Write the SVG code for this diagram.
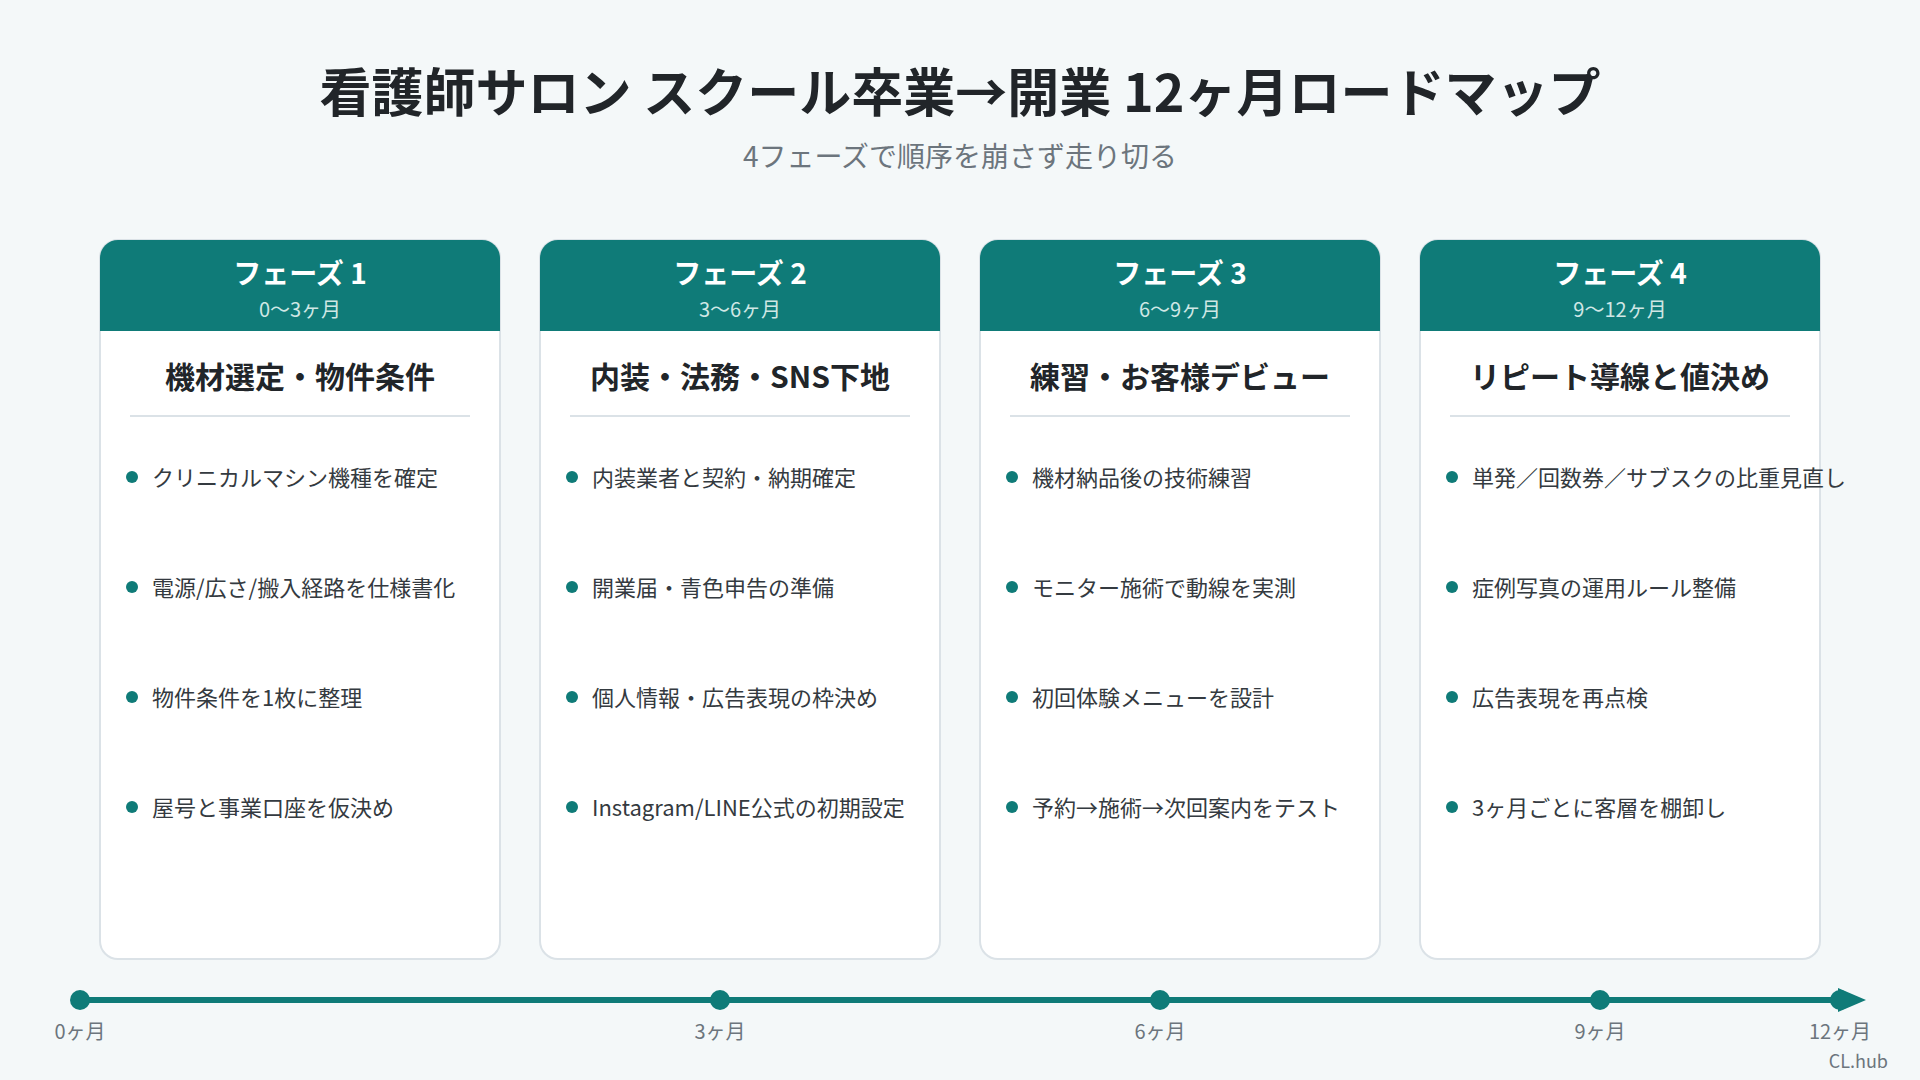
<svg xmlns="http://www.w3.org/2000/svg" width="1920" height="1080" viewBox="0 0 1920 1080">
<defs>
<style>
text{font-family:"Noto Sans CJK JP","Noto Sans",sans-serif}
.title{font-size:52px;font-weight:700;fill:#212529;text-anchor:middle}
.sub{font-size:28px;fill:#6c757d;text-anchor:middle}
.card{fill:#ffffff;stroke:#dbe2e7;stroke-width:2}
.head{fill:#0f7b78}
.ph{font-size:28px;font-weight:700;fill:#ffffff;text-anchor:middle}
.pr{font-size:20px;fill:#cfe7e5;text-anchor:middle}
.ch{font-size:30px;font-weight:700;fill:#212529;text-anchor:middle}
.div{stroke:#dbe2e7;stroke-width:2}
.dot{fill:#0f7b78}
.item{font-size:22px;fill:#343a40}
.axis{stroke:#0f7b78;stroke-width:6}
.tl{font-size:20px;fill:#6c757d;text-anchor:middle}
.foot{font-size:18px;fill:#6c757d;text-anchor:end}
</style>
</defs>
<rect width="1920" height="1080" fill="#f4f8f9"/>
<text class="title" x="960" y="112">看護師サロン スクール卒業→開業 12ヶ月ロードマップ</text>
<text class="sub" x="960" y="167">4フェーズで順序を崩さず走り切る</text>

<g id="phase1">
<rect class="card" x="100" y="240" width="400" height="719" rx="18"/>
<path class="head" d="M100 331 V258 A18 18 0 0 1 118 240 H482 A18 18 0 0 1 500 258 V331 Z"/>
<text class="ph" x="300" y="284">フェーズ 1</text>
<text class="pr" x="300" y="317">0〜3ヶ月</text>
<text class="ch" x="300" y="388">機材選定・物件条件</text>
<line class="div" x1="130" y1="416" x2="470" y2="416"/>
<circle class="dot" cx="132" cy="477" r="6"/><text class="item" x="152" y="486">クリニカルマシン機種を確定</text>
<circle class="dot" cx="132" cy="587" r="6"/><text class="item" x="152" y="596">電源/広さ/搬入経路を仕様書化</text>
<circle class="dot" cx="132" cy="697" r="6"/><text class="item" x="152" y="706">物件条件を1枚に整理</text>
<circle class="dot" cx="132" cy="807" r="6"/><text class="item" x="152" y="816">屋号と事業口座を仮決め</text>
</g>

<g id="phase2">
<rect class="card" x="540" y="240" width="400" height="719" rx="18"/>
<path class="head" d="M540 331 V258 A18 18 0 0 1 558 240 H922 A18 18 0 0 1 940 258 V331 Z"/>
<text class="ph" x="740" y="284">フェーズ 2</text>
<text class="pr" x="740" y="317">3〜6ヶ月</text>
<text class="ch" x="740" y="388">内装・法務・SNS下地</text>
<line class="div" x1="570" y1="416" x2="910" y2="416"/>
<circle class="dot" cx="572" cy="477" r="6"/><text class="item" x="592" y="486">内装業者と契約・納期確定</text>
<circle class="dot" cx="572" cy="587" r="6"/><text class="item" x="592" y="596">開業届・青色申告の準備</text>
<circle class="dot" cx="572" cy="697" r="6"/><text class="item" x="592" y="706">個人情報・広告表現の枠決め</text>
<circle class="dot" cx="572" cy="807" r="6"/><text class="item" x="592" y="816">Instagram/LINE公式の初期設定</text>
</g>

<g id="phase3">
<rect class="card" x="980" y="240" width="400" height="719" rx="18"/>
<path class="head" d="M980 331 V258 A18 18 0 0 1 998 240 H1362 A18 18 0 0 1 1380 258 V331 Z"/>
<text class="ph" x="1180" y="284">フェーズ 3</text>
<text class="pr" x="1180" y="317">6〜9ヶ月</text>
<text class="ch" x="1180" y="388">練習・お客様デビュー</text>
<line class="div" x1="1010" y1="416" x2="1350" y2="416"/>
<circle class="dot" cx="1012" cy="477" r="6"/><text class="item" x="1032" y="486">機材納品後の技術練習</text>
<circle class="dot" cx="1012" cy="587" r="6"/><text class="item" x="1032" y="596">モニター施術で動線を実測</text>
<circle class="dot" cx="1012" cy="697" r="6"/><text class="item" x="1032" y="706">初回体験メニューを設計</text>
<circle class="dot" cx="1012" cy="807" r="6"/><text class="item" x="1032" y="816">予約→施術→次回案内をテスト</text>
</g>

<g id="phase4">
<rect class="card" x="1420" y="240" width="400" height="719" rx="18"/>
<path class="head" d="M1420 331 V258 A18 18 0 0 1 1438 240 H1802 A18 18 0 0 1 1820 258 V331 Z"/>
<text class="ph" x="1620" y="284">フェーズ 4</text>
<text class="pr" x="1620" y="317">9〜12ヶ月</text>
<text class="ch" x="1620" y="388">リピート導線と値決め</text>
<line class="div" x1="1450" y1="416" x2="1790" y2="416"/>
<circle class="dot" cx="1452" cy="477" r="6"/><text class="item" x="1472" y="486">単発／回数券／サブスクの比重見直し</text>
<circle class="dot" cx="1452" cy="587" r="6"/><text class="item" x="1472" y="596">症例写真の運用ルール整備</text>
<circle class="dot" cx="1452" cy="697" r="6"/><text class="item" x="1472" y="706">広告表現を再点検</text>
<circle class="dot" cx="1452" cy="807" r="6"/><text class="item" x="1472" y="816">3ヶ月ごとに客層を棚卸し</text>
</g>

<g id="timeline">
<line class="axis" x1="80" y1="1000" x2="1845" y2="1000"/>
<polygon class="dot" points="1838,988 1866,1000 1838,1012"/>
<circle class="dot" cx="80" cy="1000" r="10"/>
<circle class="dot" cx="720" cy="1000" r="10"/>
<circle class="dot" cx="1160" cy="1000" r="10"/>
<circle class="dot" cx="1600" cy="1000" r="10"/>
<circle class="dot" cx="1840" cy="1000" r="10"/>
<text class="tl" x="80" y="1039">0ヶ月</text>
<text class="tl" x="720" y="1039">3ヶ月</text>
<text class="tl" x="1160" y="1039">6ヶ月</text>
<text class="tl" x="1600" y="1039">9ヶ月</text>
<text class="tl" x="1840" y="1039">12ヶ月</text>
</g>
<text class="foot" x="1888" y="1068">CL.hub</text>
</svg>
